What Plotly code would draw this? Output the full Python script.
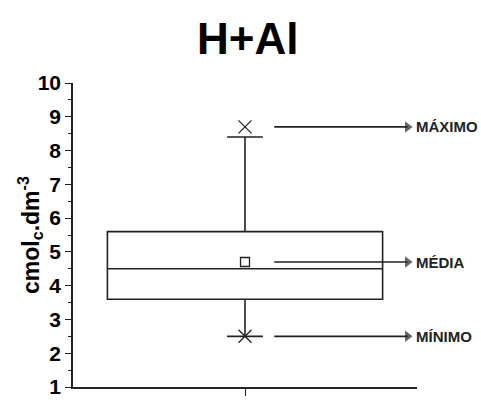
import plotly.graph_objects as go

# Summary statistics of H+Al (cmolc.dm-3)
categories = [1]
q1 = [3.6]
median = [4.5]
q3 = [5.6]
lower_fence = [2.5]
upper_fence = [8.4]
mean_val = [4.7]
max_val = [8.7]
min_val = [2.5]

y_ticks = [1, 2, 3, 4, 5, 6, 7, 8, 9, 10]
labels = ["MÁXIMO", "MÉDIA", "MÍNIMO"]

NARROW = "Liberation Sans Narrow, Arial Narrow, Liberation Sans, Arial, sans-serif"
INK = "#222222"

fig = go.Figure()

fig.add_trace(go.Box(
    x=categories, q1=q1, median=median, q3=q3,
    lowerfence=lower_fence, upperfence=upper_fence,
    width=1.6, whiskerwidth=0.13,
    fillcolor="rgba(0,0,0,0)",
    line=dict(color=INK, width=1.6),
    boxpoints=False, showlegend=False, hoverinfo="skip",
))

# Mean as an open square
fig.add_trace(go.Scatter(
    x=categories, y=mean_val, mode="markers",
    marker=dict(symbol="square-open", size=9, color=INK, line=dict(width=1.3)),
    showlegend=False, hoverinfo="skip",
))

# Maximum and minimum as crosses
fig.add_trace(go.Scatter(
    x=categories * 2, y=max_val + min_val, mode="markers",
    marker=dict(symbol="x-thin", size=13, color=INK, line=dict(width=1.3, color=INK)),
    showlegend=False, hoverinfo="skip",
))

# Arrows pointing to the labels
arrow_y = [max_val[0], mean_val[0], min_val[0]]
for yv, txt in zip(arrow_y, labels):
    fig.add_trace(go.Scatter(
        x=[1.17, 1.945], y=[yv, yv], mode="lines+markers",
        line=dict(color=INK, width=1.6),
        marker=dict(symbol="triangle-right", size=[0, 10], color=INK,
                    line=dict(width=0)),
        showlegend=False, hoverinfo="skip", cliponaxis=False,
    ))
    fig.add_annotation(
        x=1.985, y=yv, xref="x", yref="y",
        text="<b>%s</b>" % txt, showarrow=False,
        xanchor="left", yanchor="middle",
        font=dict(family=NARROW, size=15, color=INK),
    )

# Vertical axis title
fig.add_annotation(
    x=-0.125, y=0.5, xref="paper", yref="paper",
    text="<b>cmol<sub>c</sub>.dm<sup>-3</sup></b>", textangle=-90,
    showarrow=False, xanchor="center", yanchor="middle",
    font=dict(family="Liberation Sans, Arial, sans-serif", size=23, color="#000000"),
)

fig.update_layout(
    width=481, height=405,
    margin=dict(l=73, r=64, t=83, b=7),
    paper_bgcolor="white", plot_bgcolor="white",
    title=dict(
        text="<b>H+Al</b>", x=0.515, xanchor="center", y=0.905, yanchor="middle",
        font=dict(family=NARROW, size=44, color="#000000"),
    ),
    font=dict(family=NARROW, color="#000000"),
)

fig.update_xaxes(
    range=[0, 2], showgrid=False, zeroline=False,
    showline=True, linecolor=INK, linewidth=1.6,
    tickvals=categories, showticklabels=False, ticks="outside", ticklen=7,
    tickwidth=1.4, tickcolor=INK,
)

fig.update_yaxes(
    range=[1, 10], showgrid=False, zeroline=False,
    showline=True, linecolor=INK, linewidth=1.6,
    tickvals=y_ticks, ticktext=["<b>%d</b>" % v for v in y_ticks],
    ticks="outside", ticklen=6, tickwidth=1.4, tickcolor=INK,
    tickfont=dict(family=NARROW, size=21, color="#000000"),
    minor=dict(dtick=0.5, ticks="outside", ticklen=3, tickwidth=1.2, tickcolor=INK),
)

fig.write_html("out.html")
